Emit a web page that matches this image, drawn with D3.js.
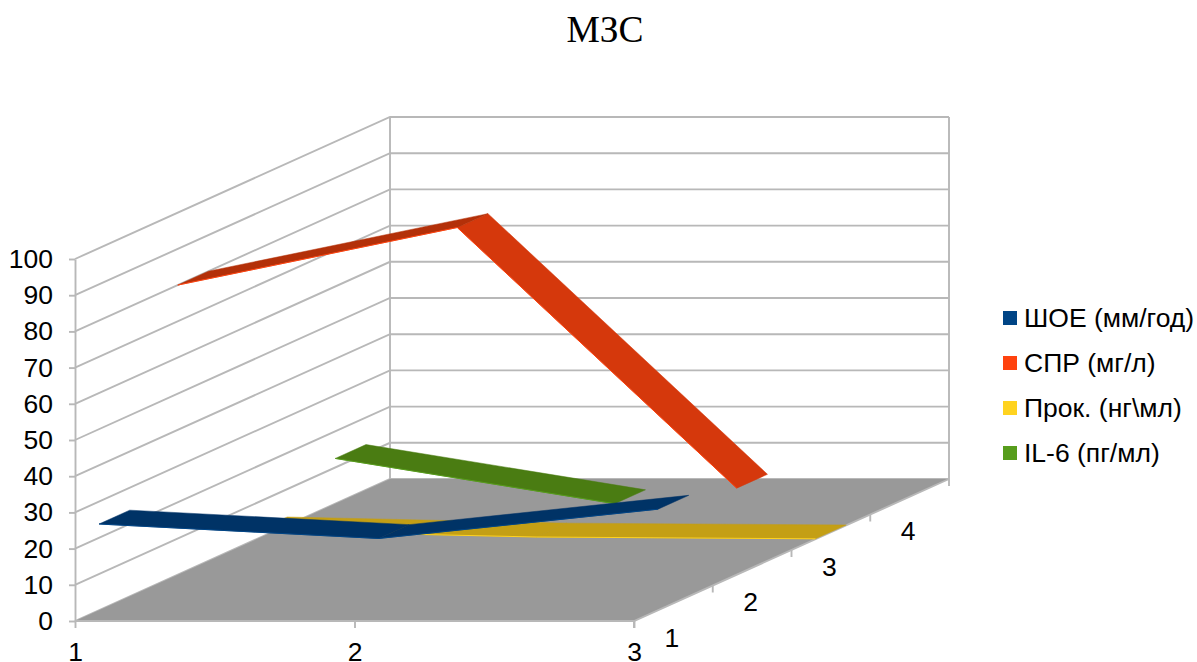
<!DOCTYPE html>
<html><head><meta charset="utf-8">
<script src="https://cdn.jsdelivr.net/npm/d3@7"></script>
<style>html,body{margin:0;padding:0;background:#fff;overflow:hidden}svg{display:block}
text{font-family:"Liberation Sans",Arial,sans-serif;fill:#000}</style></head>
<body><svg id="c" width="1197" height="662"></svg>
<script>
const title = "МЗС";
const categories = [1, 2, 3];
const depthLabels = [1, 2, 3, 4];
const seriesNames = ["ШОЕ (мм/год)", "СПР (мг/л)", "Прок. (нг\\мл)", "IL-6 (пг/мл)"];
const shoe = [23.8, 19.8, 27.9];
const spr = [80, 95.9, 23.9];
const prok = [2.3, 0.6, 0.1];
const il6 = [12.5, 0];
const seriesValues = [shoe, spr, prok, il6];
const legendColors = ["#004586", "#ff420e", "#ffd320", "#579d1c"];
const faceColors = [["#003366", "#003366"], ["#b33009", "#d5380c"], ["#c49f15", "#c49f15"], ["#4a7c12", "#4a7c12"]];
const gridColor = "#b8b8b8", floorColor = "#999999";
const fontSize = 26.5;

const svg = d3.select("#c");
const x = d3.scalePoint().domain(categories).range([75, 634]);
const y = d3.scaleLinear().domain([0, 100]).range([621, 259]);
const dx = d3.scaleLinear().domain([0, 4]).range([0, 315]);
const dy = d3.scaleLinear().domain([0, 4]).range([0, -142]);
const px = (c, z) => x(c) + dx(z);
const py = (v, z) => y(v) + dy(z);
const poly = pts => "M" + pts.map(p => p.join(",")).join("L") + "Z";
const line = d3.line();

// walls
const grid = svg.append("g").attr("stroke", gridColor).attr("stroke-width", 1.9).attr("fill", "none");
const first = categories[0], last = categories[categories.length - 1];
y.ticks(10).forEach(t => {
  grid.append("path").attr("d", line([[px(first, 0), py(t, 0)], [px(first, 4), py(t, 4)], [px(last, 4), py(t, 4)]]));
});
grid.append("path").attr("d", line([[px(first, 4), py(0, 4)], [px(first, 4), py(100, 4)]]));
grid.append("path").attr("d", line([[px(last, 4), py(0, 4)], [px(last, 4), py(100, 4)]]));

// floor
svg.append("path")
  .attr("d", poly([[px(first, 0), py(0, 0)], [px(last, 0), py(0, 0)], [px(last, 4), py(0, 4)], [px(first, 4), py(0, 4)]]))
  .attr("fill", floorColor);
svg.append("path")
  .attr("d", line([[px(first, 0), py(0, 0)], [px(last, 0), py(0, 0)], [px(last, 4), py(0, 4)]]))
  .attr("fill", "none").attr("stroke", gridColor).attr("stroke-width", 1.9);

// depth ticks and labels
d3.range(0, 5).forEach(i => {
  svg.append("line").attr("x1", px(last, i)).attr("x2", px(last, i))
    .attr("y1", py(0, i)).attr("y2", py(0, i) + 7)
    .attr("stroke", gridColor).attr("stroke-width", 1.9);
});
svg.append("g").selectAll("text").data(depthLabels).join("text")
  .attr("x", d => px(last, d - 0.5) - 1.5)
  .attr("y", d => py(0, d - 0.5) + 43.5)
  .attr("text-anchor", "middle").attr("font-size", fontSize).text(d => d);

// ribbons, back to front
const zFront = 0.305, zBack = 0.695;
d3.range(seriesValues.length).reverse().forEach(s => {
  const vals = seriesValues[s];
  const g = svg.append("g");
  for (let i = vals.length - 2; i >= 0; i--) {
    const a = categories[i], b = categories[i + 1];
    g.append("path").attr("d", poly([
      [px(a, s + zFront), py(vals[i], s + zFront)],
      [px(b, s + zFront), py(vals[i + 1], s + zFront)],
      [px(b, s + zBack), py(vals[i + 1], s + zBack)],
      [px(a, s + zBack), py(vals[i], s + zBack)]
    ])).attr("fill", faceColors[s][i]).attr("stroke", faceColors[s][i]).attr("stroke-width", 0.5);
  }
  g.append("path")
    .attr("d", line(vals.map((v, i) => [px(categories[i], s + zFront), py(v, s + zFront)])))
    .attr("fill", "none").attr("stroke", legendColors[s]).attr("stroke-width", 1);
});

// axes
const axisStyle = (g) => {
  g.attr("font-size", fontSize).attr("font-family", '"Liberation Sans",Arial,sans-serif');
  g.selectAll("path.domain").attr("stroke", gridColor).attr("stroke-width", 1.9);
  g.selectAll(".tick line").attr("stroke", gridColor).attr("stroke-width", 1.9);
  g.selectAll(".tick text").attr("fill", "#000");
};
svg.append("g").attr("transform", "translate(75,0)")
  .call(d3.axisLeft(y).ticks(10).tickSize(6).tickSizeOuter(0).tickPadding(16))
  .call(axisStyle);
svg.append("g").attr("transform", "translate(0,621)")
  .call(d3.axisBottom(x).tickSize(7).tickSizeOuter(0).tickPadding(14))
  .call(axisStyle).call(g => g.select("path.domain").remove());

// title
svg.append("text").attr("x", 605).attr("y", 42).attr("text-anchor", "middle")
  .attr("font-size", 37.5).style("font-family", '"Liberation Serif",serif').text(title);

// legend
const legendY = d3.scalePoint().domain(seriesNames).range([327, 462]);
const leg = svg.append("g").selectAll("g").data(seriesNames).join("g")
  .attr("transform", d => `translate(0,${legendY(d)})`);
leg.append("rect").attr("x", 1003).attr("y", -16).attr("width", 14).attr("height", 14)
  .attr("fill", (d, i) => legendColors[i]);
leg.append("text").attr("x", 1024).attr("y", 0).attr("font-size", fontSize).text(d => d);
</script></body></html>
